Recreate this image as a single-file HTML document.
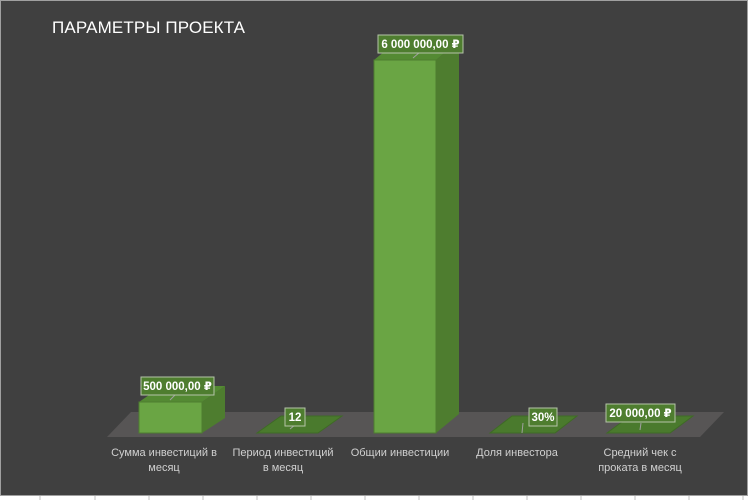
<!DOCTYPE html>
<html><head><meta charset="utf-8"><style>
html,body{margin:0;padding:0;background:#fff;}
svg{display:block;font-family:"Liberation Sans","DejaVu Sans",sans-serif;}
</style></head><body>
<svg width="750" height="500" viewBox="0 0 750 500">
<rect x="0.5" y="0.5" width="747" height="495" fill="#404040" stroke="#a0a0a0"/>
<g stroke="#bfbfbf">
<line x1="40" y1="496" x2="40" y2="500"/><line x1="95" y1="496" x2="95" y2="500"/><line x1="149" y1="496" x2="149" y2="500"/><line x1="203" y1="496" x2="203" y2="500"/><line x1="257" y1="496" x2="257" y2="500"/><line x1="311" y1="496" x2="311" y2="500"/><line x1="365" y1="496" x2="365" y2="500"/><line x1="419" y1="496" x2="419" y2="500"/><line x1="473" y1="496" x2="473" y2="500"/><line x1="527" y1="496" x2="527" y2="500"/><line x1="581" y1="496" x2="581" y2="500"/><line x1="635" y1="496" x2="635" y2="500"/><line x1="689" y1="496" x2="689" y2="500"/><line x1="743" y1="496" x2="743" y2="500"/>
</g>
<text x="52" y="33" fill="#fff" font-size="17" textLength="193">ПАРАМЕТРЫ ПРОЕКТА</text>
<polygon points="107,437 700,437 724,412 131,412" fill="#575555"/>
<polygon points="202,402 225,386 225,418 202,433" fill="#4e7d2f"/>
<polygon points="139,402 162,386 225,386 202,402" fill="#548a33"/>
<rect x="139" y="402" width="63" height="31" fill="#6aa544" stroke="#4e7d2f"/>
<polygon points="436,60 459,41 459,414 436,433" fill="#4e7d2f"/>
<polygon points="374,60 397,41 459,41 436,60" fill="#548a33"/>
<rect x="374" y="60" width="62" height="373" fill="#6aa544" stroke="#4e7d2f"/>
<polygon points="257,433 318,433 342,416 281,416" fill="#4a7a2d" stroke="#3f6a26"/>
<polygon points="490,433 555,433 577,416 512,416" fill="#4a7a2d" stroke="#3f6a26"/>
<polygon points="607,433 670,433 693,416 630,416" fill="#4a7a2d" stroke="#3f6a26"/>
<g stroke="#a0a0a0" stroke-width="1">
<line x1="170" y1="400" x2="177" y2="393"/><line x1="290" y1="429" x2="295" y2="425"/><line x1="413" y1="58" x2="420" y2="52"/><line x1="522" y1="433" x2="523" y2="423"/><line x1="640" y1="430" x2="641" y2="423"/>
</g>
<g fill="#4e7d2f" stroke="#b5c4a8" stroke-width="1">
<rect x="141" y="377" width="73" height="18"/>
<rect x="285" y="408" width="20" height="18"/>
<rect x="378" y="35" width="85" height="18"/>
<rect x="529" y="408" width="28" height="18"/>
<rect x="606" y="404" width="69" height="18"/>
</g>
<g fill="#fff" font-size="11.5" font-weight="bold" text-anchor="middle">
<text x="177.5" y="390">500 000,00 ₽</text>
<text x="295" y="421">12</text>
<text x="420.5" y="48">6 000 000,00 ₽</text>
<text x="543" y="421">30%</text>
<text x="640.5" y="417">20 000,00 ₽</text>
</g>
<g fill="#d0d0d0" font-size="11" text-anchor="middle">
<text x="164" y="456">Сумма инвестиций в</text><text x="164" y="471">месяц</text>
<text x="283" y="456">Период инвестиций</text><text x="283" y="471">в месяц</text>
<text x="400" y="456">Общии инвестиции</text>
<text x="517" y="456">Доля инвестора</text>
<text x="640" y="456">Средний чек с</text><text x="640" y="471">проката в месяц</text>
</g>
</svg>
</body></html>
